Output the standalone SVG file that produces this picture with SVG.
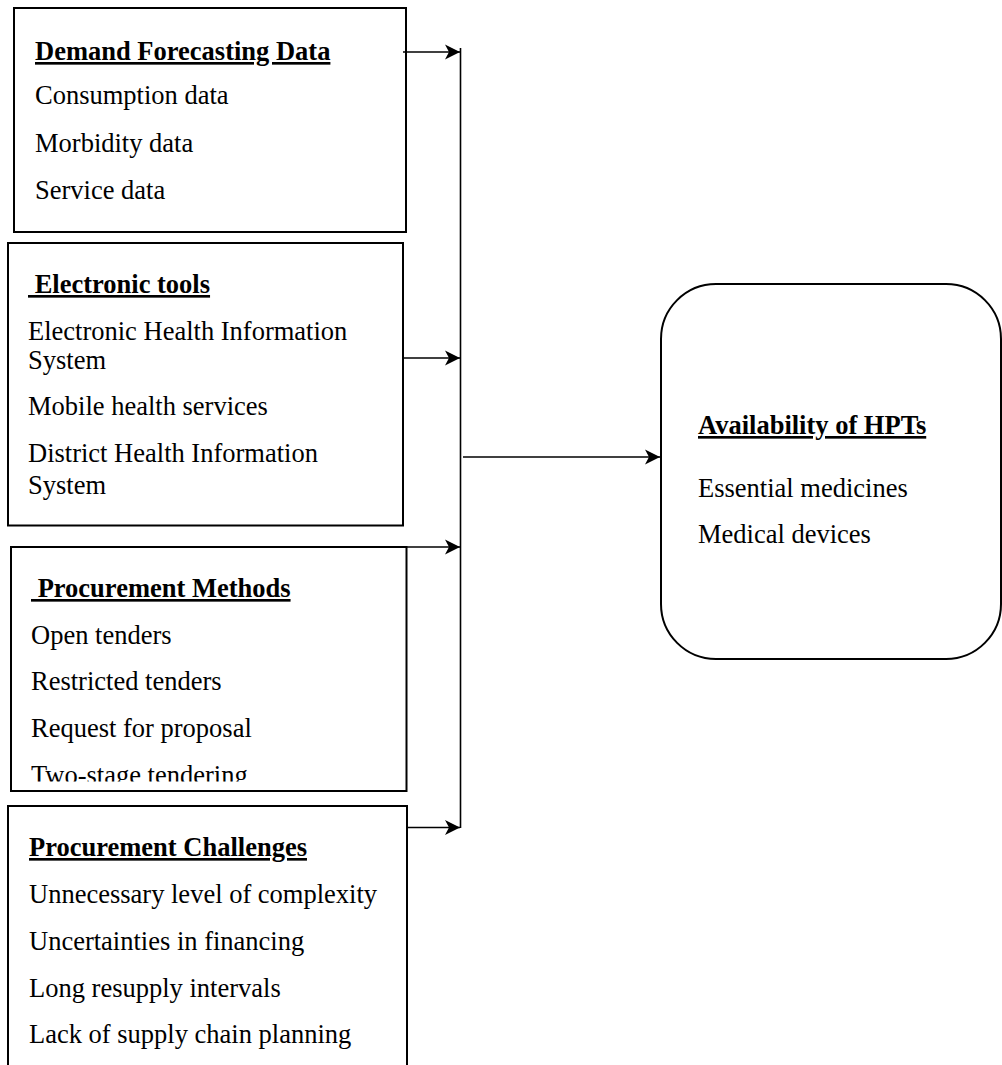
<svg xmlns="http://www.w3.org/2000/svg" width="1002" height="1065" viewBox="0 0 1002 1065">
  <style>
    text { font-family: "Liberation Serif", "Times New Roman", serif; font-size: 26.5px; fill: #000; }
    .title { font-weight: bold; text-decoration: underline; }
    .box { fill: #fff; stroke: #000; stroke-width: 2; }
    .conn { fill: none; stroke: #000; stroke-width: 1.6; }
  </style>
  <defs>
    <marker id="arrow" markerUnits="userSpaceOnUse" markerWidth="17" markerHeight="17" viewBox="0 0 17 17" refX="16" refY="8.5" orient="auto">
      <path d="M1,1 L16,8.5 L1,16 L5,8.5 Z" fill="#000"/>
    </marker>
    <clipPath id="clip3">
      <rect x="11" y="547" width="396" height="234.5"/>
    </clipPath>
  </defs>
  <rect width="1002" height="1065" fill="#fff"/>

  <g id="node-demand">
    <rect class="box" x="14" y="8" width="392" height="224"/>
    <text class="title" x="35" y="60">Demand Forecasting Data</text>
    <text x="35" y="104">Consumption data</text>
    <text x="35" y="151.5">Morbidity data</text>
    <text x="35" y="199">Service data</text>
  </g>

  <g id="node-electronic">
    <rect class="box" x="8" y="243" width="395" height="282.5"/>
    <text class="title" x="28" y="293" xml:space="preserve"> Electronic tools</text>
    <text x="28" y="340">Electronic Health Information</text>
    <text x="28" y="368.5">System</text>
    <text x="28" y="415">Mobile health services</text>
    <text x="28" y="462">District Health Information</text>
    <text x="28" y="494">System</text>
  </g>

  <g id="node-methods">
    <rect class="box" x="11" y="547" width="395.5" height="244"/>
    <g clip-path="url(#clip3)">
      <text class="title" x="31" y="597" xml:space="preserve"> Procurement Methods</text>
      <text x="31" y="644">Open tenders</text>
      <text x="31" y="690">Restricted tenders</text>
      <text x="31" y="737">Request for proposal</text>
      <text x="31" y="783.5">Two-stage tendering</text>
    </g>
  </g>

  <g id="node-challenges">
    <rect class="box" x="8" y="806" width="399" height="290"/>
    <text class="title" x="29" y="856">Procurement Challenges</text>
    <text x="29" y="903">Unnecessary level of complexity</text>
    <text x="29" y="950">Uncertainties in financing</text>
    <text x="29" y="997">Long resupply intervals</text>
    <text x="29" y="1043">Lack of supply chain planning</text>
  </g>

  <g id="node-availability">
    <rect class="box" x="661" y="284" width="340" height="375" rx="55" ry="55"/>
    <text class="title" x="698" y="434">Availability of HPTs</text>
    <text x="698" y="497">Essential medicines</text>
    <text x="698" y="543">Medical devices</text>
  </g>

  <g id="connectors">
    <path class="conn" d="M403,52 H460" marker-end="url(#arrow)"/>
    <path class="conn" d="M403,358 H460" marker-end="url(#arrow)"/>
    <path class="conn" d="M406,547 H460" marker-end="url(#arrow)"/>
    <path class="conn" d="M407,827.5 H460" marker-end="url(#arrow)"/>
    <path class="conn" d="M460.5,48 V828"/>
    <path class="conn" d="M463,457 H660" marker-end="url(#arrow)"/>
  </g>
</svg>
